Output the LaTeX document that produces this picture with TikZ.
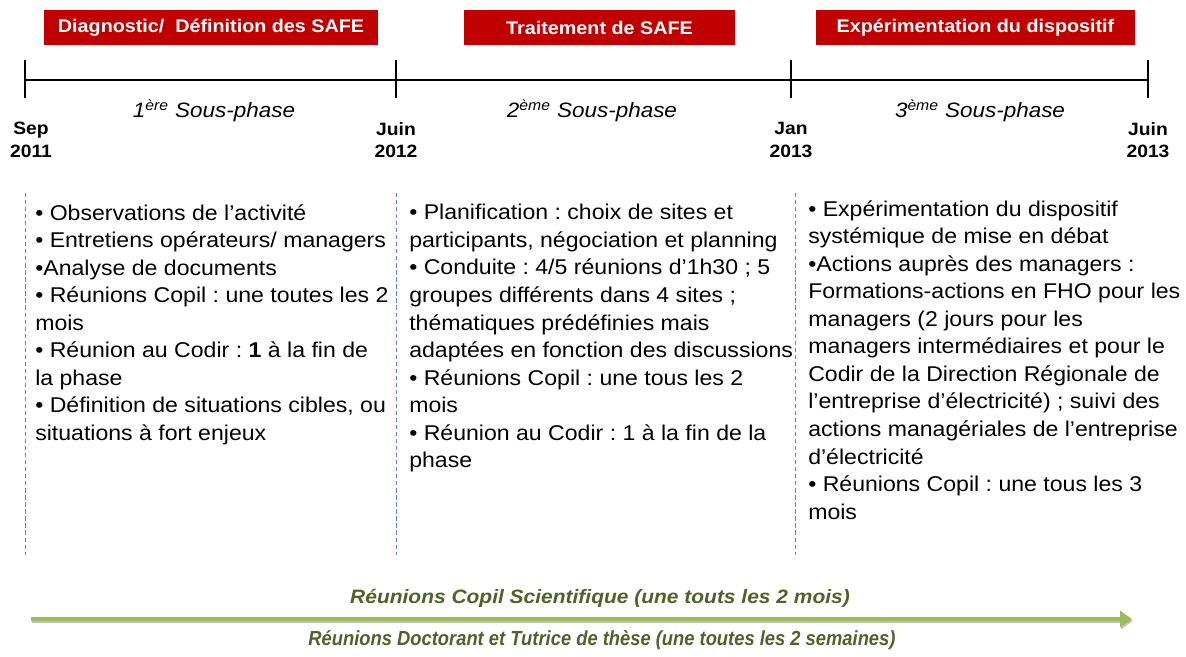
\documentclass[tikz,border=0pt]{standalone}
\usepackage{fontspec}
\setmainfont[FakeStretch=1.08]{Liberation Sans}
\newfontfamily\narrowfont[FakeStretch=0.90]{Liberation Sans}
\usetikzlibrary{positioning,arrows.meta,calc}
\definecolor{phasered}{RGB}{192,0,0}
\definecolor{copilgreen}{RGB}{155,187,89}
\definecolor{textgreen}{RGB}{79,98,40}
\definecolor{sepblue}{RGB}{95,135,190}
\frenchspacing

\begin{document}
\begin{tikzpicture}[x=0.025cm,y=-0.025cm,
    phasetag/.style={rectangle, fill=phasered, text=white, inner sep=0pt, minimum height=0.875cm,
        font=\fontsize{13}{15}\selectfont\bfseries},
    datelbl/.style={align=center, inner sep=0pt, font=\fontsize{12.7}{15}\selectfont\bfseries},
    subphase/.style={inner sep=0pt, font=\fontsize{14.8}{17}\selectfont\itshape},
    tasklist/.style={anchor=north west, align=left, inner sep=0pt, font=\fontsize{15.2}{19.6}\selectfont},
    sepline/.style={draw=sepblue, densely dashed, line width=0.6pt},
    greenlbl/.style={inner sep=0pt, text=textgreen, font=\fontsize{13.8}{15}\selectfont\bfseries\itshape}]
        \useasboundingbox (0,0) rectangle (1186,657);
        % Timeline
        \coordinate (t0) at (25,80);
        \coordinate (t1) at (396,80);
        \coordinate (t2) at (791,80);
        \coordinate (t3) at (1148,80);
        \draw[line width=1.1pt] (t0) -- (t3);
        \foreach \t in {t0,t1,t2,t3}
            \draw[line width=0.8pt] ($(\t)+(0,-20)$) -- ($(\t)+(0,18)$);
        
        % Phase tags
        \node [phasetag, minimum width=8.35cm] (diag) at (211,27.5) {Diagnostic/\ \ Définition des SAFE};
        \node [phasetag, minimum width=6.775cm] (trait) at (599.5,27.5) {Traitement de SAFE};
        \node [phasetag, minimum width=7.975cm] (exper) at (975.5,27.5) {Expérimentation du dispositif};
        
        % Dates
        \node [datelbl, below=1.05cm of t0, xshift=0.15cm] (sep11) {Sep\\[1pt]2011};
        \node [datelbl, below=1.05cm of t1] (juin12) {Juin\\[1pt]2012};
        \node [datelbl, below=1.05cm of t2] (jan13) {Jan\\[1pt]2013};
        \node [datelbl, below=1.05cm of t3] (juin13) {Juin\\[1pt]2013};
        
        % Sous-phases
        \node [subphase] (sp1) at (214,111) {1\textsuperscript{ère} Sous-phase};
        \node [subphase] (sp2) at (592,111) {2\textsuperscript{ème} Sous-phase};
        \node [subphase] (sp3) at (980,111) {3\textsuperscript{ème} Sous-phase};
        
        % Separators
        \foreach \x in {25,396,795}
            \draw[sepline] (\x,193) -- (\x,555);
        
        % Task lists
        \node [tasklist] (tasks1) at (35,204) {• Observations de l’activité\\
            • Entretiens opérateurs/ managers\\
            •Analyse de documents\\
            • Réunions Copil : une toutes les 2\\
            mois\\
            • Réunion au Codir : \textbf{1} à la fin de\\
            la phase\\
            • Définition de situations cibles, ou\\
            situations à fort enjeux};
        \node [tasklist] (tasks2) at (409,204) {• Planification : choix de sites et\\
            participants, négociation et planning\\
            • Conduite : 4/5 réunions d’1h30 ; 5\\
            groupes différents dans 4 sites ;\\
            thématiques prédéfinies mais\\
            adaptées en fonction des discussions\\
            • Réunions Copil : une tous les 2\\
            mois\\
            • Réunion au Codir : 1 à la fin de la\\
            phase};
        \node [tasklist] (tasks3) at (808,200) {• Expérimentation du dispositif\\
            systémique de mise en débat\\
            •Actions auprès des managers :\\
            Formations-actions en FHO pour les\\
            managers (2 jours pour les\\
            managers intermédiaires et pour le\\
            Codir de la Direction Régionale de\\
            l’entreprise d’électricité) ; suivi des\\
            actions managériales de l’entreprise\\
            d’électricité\\
            • Réunions Copil : une tous les 3\\
            mois};
        
        % Copil arrow
        \coordinate (copilstart) at (31,619);
        \coordinate (copilend) at (1132,619);
        \node [greenlbl] (copil) at (600,598) {Réunions Copil Scientifique (une touts les 2 mois)};
        \node [greenlbl] (doct) at (602,640) {\narrowfont\fontsize{14.5}{16}\selectfont Réunions Doctorant et Tutrice de thèse (une toutes les 2 semaines)};
        \draw[-{Triangle[length=0.3cm,width=0.4cm]}, draw=copilgreen, fill=copilgreen, line width=3.2pt,
            preaction={draw=black!25, line width=3pt, transform canvas={shift={(0.6pt,-1.4pt)}}}] (copilstart) -- (copilend);
        
\end{tikzpicture}
\end{document}
